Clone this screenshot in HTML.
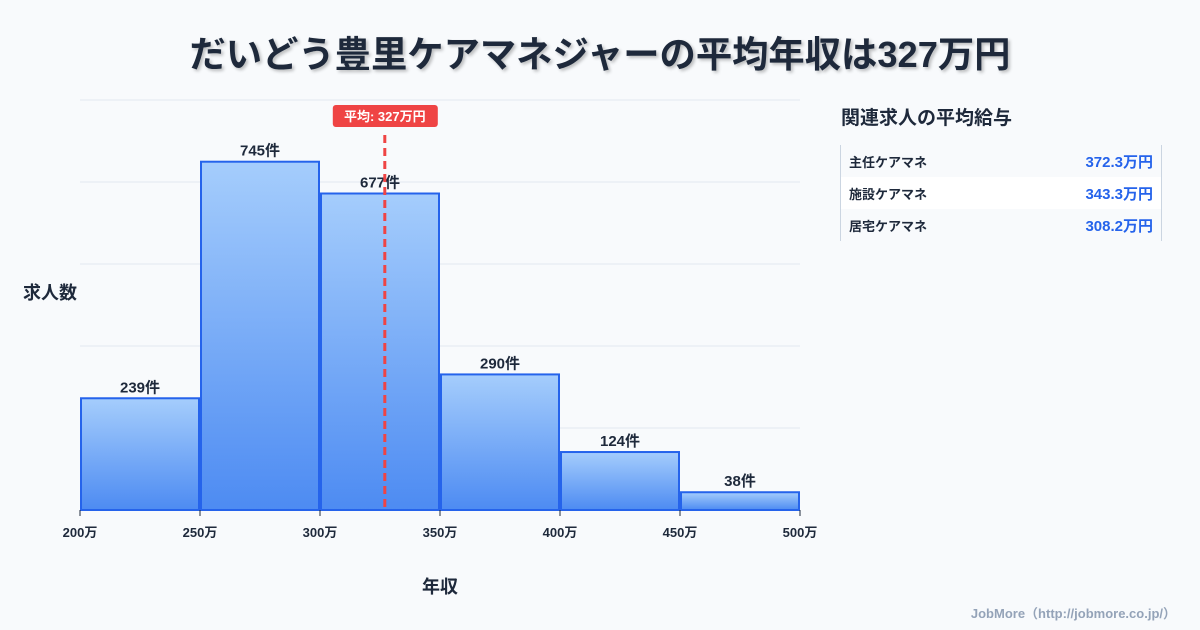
<!DOCTYPE html>
<html><head><meta charset="utf-8"><style>
body{margin:0;width:1200px;height:630px;background:#f8fafc;font-family:"Liberation Sans","Noto Sans CJK JP",sans-serif;position:relative;overflow:hidden;color:#1e293b}
#title{position:absolute;left:0;width:1200px;top:26px;text-align:center;font-size:36.3px;font-weight:bold;color:#1e293b;text-shadow:2px 2px 3px rgba(0,0,0,.25)}
#side-title{position:absolute;left:841px;top:103px;font-size:19px;font-weight:bold}
#tbl{position:absolute;left:840px;top:145px;width:320px;border-left:1px solid #cbd5e1;border-right:1px solid #cbd5e1}
.row{height:32px;display:flex;justify-content:space-between;align-items:center;padding:0 8px;font-size:13px;font-weight:bold}
.row span:last-child{color:#2563eb;font-size:15px}
#footer{position:absolute;right:24px;top:603px;font-size:13px;color:#94a3b8;font-weight:bold}
</style></head><body>
<div id="title">だいどう豊里ケアマネジャーの平均年収は327万円</div>
<svg id="chart" width="1200" height="630" style="position:absolute;left:0;top:0">
<defs><linearGradient id="g" x1="0" y1="0" x2="0" y2="1"><stop offset="0" stop-color="#a5cdfc"/><stop offset="1" stop-color="#4d8bf2"/></linearGradient></defs>
<g id="grid"></g><g id="bars"></g><g id="xaxis"></g><g id="avg"></g>
<text x="50" y="299" text-anchor="middle" font-size="18" font-weight="bold" fill="#1e293b">求人数</text>
<text x="440" y="593" text-anchor="middle" font-size="18" font-weight="bold" fill="#1e293b">年収</text>
</svg>
<div id="side-title">関連求人の平均給与</div>
<div id="tbl">
<div class="row"><span>主任ケアマネ</span><span>372.3万円</span></div>
<div class="row" style="background:#fff"><span>施設ケアマネ</span><span>343.3万円</span></div>
<div class="row"><span>居宅ケアマネ</span><span>308.2万円</span></div>
</div>
<div id="footer">JobMore（http://jobmore.co.jp/）</div>
<script>
const binStarts=[200,250,300,350,400,450];
const counts=[239,745,677,290,124,38];
const xTicks=[200,250,300,350,400,450,500];
const avgValue=327;
const yMax=877;
const NS="http://www.w3.org/2000/svg";
const X=v=>80+(v-200)/300*720;
const Y=v=>510-v/yMax*410;
function mk(p,t,a){const e=document.createElementNS(NS,t);for(const k in a)e.setAttribute(k,a[k]);p.appendChild(e);return e;}
const grid=document.getElementById('grid');
for(let i=1;i<=5;i++){const l=mk(grid,'line',{x1:80,x2:800,y1:Y(yMax*i/5),y2:Y(yMax*i/5),stroke:'#e2e8f0','stroke-width':1});

}
const bars=document.getElementById('bars');
counts.forEach((c,i)=>{const x0=X(binStarts[i]),x1=X(binStarts[i]+50);
const r=mk(bars,'rect',{x:x0+1,y:Y(c),width:x1-x0-2,height:510-Y(c),fill:'url(#g)',stroke:'#2563eb','stroke-width':2});


const t=mk(bars,'text',{x:(x0+x1)/2,y:Y(c)-6,'text-anchor':'middle','font-size':15,'font-weight':'bold',fill:'#1e293b'});t.textContent=c+'件';

});
const xa=document.getElementById('xaxis');
xTicks.forEach(v=>{mk(xa,'line',{x1:X(v),x2:X(v),y1:510,y2:516,stroke:'#1e293b'});
const t=mk(xa,'text',{x:X(v),y:537,'text-anchor':'middle','font-size':13,'font-weight':'bold',fill:'#1e293b'});t.textContent=v+'万';

});
const avg=document.getElementById('avg');
const ax=X(avgValue);
const al=mk(avg,'line',{x1:ax,x2:ax,y1:135,y2:510,stroke:'#ef4444','stroke-width':3,'stroke-dasharray':'8,5'});


const ar=mk(avg,'rect',{x:ax-52,y:105,width:105,height:22,rx:3,fill:'#ef4444'});


const at=mk(avg,'text',{x:ax,y:121,'text-anchor':'middle','font-size':13,'font-weight':'bold',fill:'#fff'});at.textContent='平均: '+avgValue+'万円';


</script>
</body></html>
